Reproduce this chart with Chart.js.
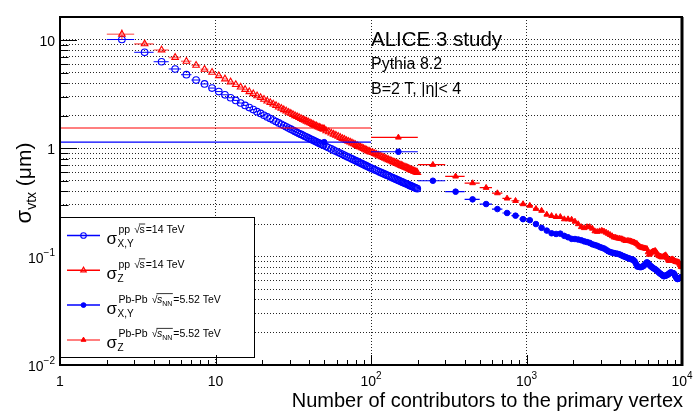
<!DOCTYPE html>
<html><head><meta charset="utf-8">
<script src="https://cdn.jsdelivr.net/npm/chart.js@4.4.1/dist/chart.umd.min.js"></script>
<style>html,body{margin:0;padding:0;background:#fff;}canvas{display:block;}</style>
</head><body>
<canvas id="c" width="693" height="415"></canvas>
<script>
// ---------------- data ----------------
const ppN = [2.5,3.5,4.5,5.5,6.5,7.5,8.5,9.5,10.5,11.5,12.5,13.5,14.5,15.5,16.5,17.5,18.5,19.5,20.5,21.5,22.5,23.5,24.5,25.5,26.5,27.5,28.5,29.5,30.5,31.5,32.5,33.5,34.5,35.5,36.5,37.5,38.5,39.5,40.5,41.5,42.5,43.5,44.5,45.5,46.5,47.5,48.5,49.5,
51.5,53.5,55.5,57.5,59.5,61.5,63.5,65.5,67.5,69.5,71.5,73.5,75.5,77.5,79.5,81.5,83.5,85.5,87.5,89.5,91.5,93.5,95.5,97.5,99.5,
102.5,105.5,108.5,111.5,114.5,117.5,120.5,123.5,126.5,129.5,132.5,135.5,138.5,141.5,144.5,147.5,150.5,153.5,156.5,159.5,162.5,165.5,168.5,171.5,174.5,177.5,180.5,183.5,186.5,189.5,192.5,195.5,198.5];
const ppSigmaXY = [10.1,7.7,6.3,5.4,4.78,4.27,3.93,3.6,
3.34,3.12,2.93,2.77,2.62,2.49,2.38,2.28,2.18,2.10,2.02,1.95,1.885,1.825,1.769,1.717,1.668,1.622,1.579,1.539,1.501,1.465,1.431,1.399,
1.369,1.343,1.317,1.293,1.269,1.247,1.226,1.206,1.186,1.167,1.149,1.131,1.115,1.098,1.083,1.068,
1.039,1.012,0.987,0.962,0.940,0.919,0.899,0.880,0.862,0.845,0.828,0.813,0.798,0.783,0.770,0.757,0.744,0.732,0.721,0.709,0.699,0.688,0.678,0.669,0.659,
0.647,0.635,0.624,0.613,0.603,0.593,0.583,0.574,0.565,0.557,0.549,0.541,0.533,0.526,0.519,0.512,0.506,0.499,0.493,0.487,0.481,0.476,0.471,0.465,0.460,0.455,0.450,0.446,0.441,0.436,0.432,0.428,0.424];
const ppSigmaZ = [11.3,9.2,8.08,6.9,6.36,5.84,5.36,5.03,
4.68,4.37,4.10,3.88,3.67,3.49,3.33,3.19,3.05,2.94,2.83,2.73,2.64,2.56,2.48,2.40,2.34,2.27,2.21,2.15,2.10,2.05,2.00,1.96,
1.92,1.88,1.84,1.81,1.78,1.75,1.72,1.69,1.66,1.63,1.61,1.58,1.56,1.54,1.52,1.50,
1.45,1.42,1.38,1.35,1.32,1.29,1.26,1.23,1.21,1.18,1.16,1.14,1.12,1.10,1.08,1.06,1.04,1.025,1.01,0.993,0.979,0.963,0.949,0.937,0.923,
0.912,0.895,0.880,0.864,0.850,0.836,0.822,0.809,0.797,0.785,0.774,0.763,0.752,0.742,0.732,0.722,0.713,0.704,0.695,0.687,0.678,0.671,0.664,0.656,0.649,0.642,0.635,0.629,0.622,0.615,0.609,0.603,0.598];
const ppZErrY = [1.2,0.4];          // visible vertical errors on the first bins
const ppHalfBin = 0.5;

const pbN = [50,150,250,350,450,550,650,750,850,950,
1050,1150,1250,1350,1450,1550,1650,1750,1850,1950,
2050,2150,2250,2350,2450,2550,2650,2750,2850,2950,
3050,3150,3250,3350,3450,3550,3650,3750,3850,3950,
4050,4150,4250,4350,4450,4550,4650,4750,4850,4950,
5050,5150,5250,5350,5450,5550,5650,5750,5850,5950,
6050,6150,6250,6350,6450,6550,6650,6750,6850,6950,
7050,7150,7250,7350,7450,7550,7650,7750,7850,7950,
8050,8150,8250,8350,8450,8550,8650,8750,8850,8950,
9050,9150,9250,9350,9450,9550,9650,9750,9850,9950];
const pbSigmaXY = [1.14,0.93,0.502,0.398,0.338,0.306,0.275,0.253,0.239,0.222,
0.217,0.200,0.1845,0.174,0.1644,0.162,0.163,0.1556,0.151,0.146,
0.1455,0.144,0.1417,0.1385,0.1364,0.134,0.130,0.128,0.126,0.123,
0.121,0.119,0.116,0.1124,0.1103,0.109,0.108,0.107,0.1063,0.1052,
0.1035,0.1017,0.1004,0.0989,0.0977,0.0964,0.0954,0.0944,0.0936,0.091,
0.0863,0.0813,0.0809,0.0802,0.080,0.081,0.0818,0.084,0.0863,0.0887,
0.0873,0.0847,0.0824,0.0809,0.0795,0.0781,0.0773,0.0762,0.075,0.0736,
0.0722,0.0707,0.0697,0.0687,0.0676,0.0668,0.0659,0.0664,0.0669,0.0673,
0.0677,0.0687,0.0697,0.0706,0.0716,0.0712,0.0708,0.0704,0.0701,0.0685,
0.0662,0.0645,0.0629,0.0621,0.0625,0.0631,0.0636,0.0641,0.0644,0.0644];
const pbSigmaZ = [1.54,1.26,0.706,0.551,0.478,0.433,0.386,0.345,0.328,0.306,
0.296,0.277,0.266,0.245,0.238,0.233,0.233,0.222,0.222,0.220,
0.211,0.200,0.188,0.184,0.188,0.188,0.182,0.172,0.170,0.172,
0.174,0.171,0.167,0.163,0.159,0.155,0.151,0.150,0.148,0.147,
0.146,0.145,0.142,0.140,0.140,0.140,0.139,0.138,0.136,0.135,
0.133,0.131,0.127,0.124,0.122,0.121,0.120,0.1196,0.1186,0.118,
0.110,0.1045,0.107,0.1096,0.111,0.112,0.1127,0.113,0.1096,0.1057,
0.1028,0.1014,0.1006,0.0995,0.0987,0.0997,0.101,0.102,0.1033,0.1006,
0.0973,0.094,0.0917,0.0924,0.0932,0.094,0.0948,0.0938,0.0927,0.0915,
0.0903,0.0895,0.0893,0.0891,0.0889,0.0886,0.0863,0.0836,0.081,0.0802];
const pbHalfBin = 50;

const xMajorTicks = [1,10,100,1000,10000];
const xTickLabels = [['1',''],['10',''],['10','2'],['10','3'],['10','4']];
const yMajorTicks = [0.01,0.1,1,10];
const yTickLabels = [['10','\u22122'],['10','\u22121'],['1',''],['10','']];
const minorMultipliers = [2,3,4,5,6,7,8,9];
const xGridValues = [10,100,1000];
const xRange = [1,10000];
const yRange = [0.01,16.3];

const textLines = ['ALICE 3 study','Pythia 8.2','B=2 T, |\u03b7|< 4'];
const xTitle = 'Number of contributors to the primary vertex';
const yTitleParts = ['\u03c3','vtx',' (\u03bcm)'];
const legendSup = ['pp','pp','Pb-Pb','Pb-Pb'];
const legendSub = ['X,Y','Z','X,Y','Z'];
const legendSqrtSub = ['','','NN','NN'];
const legendEnergy = ['=14 TeV','=14 TeV','=5.52 TeV','=5.52 TeV'];

// ---------------- helpers ----------------
const FONT = '"Liberation Sans", Arial, Helvetica, sans-serif';
const fnt = (s, it) => (it ? 'italic ' : '') + s + 'px ' + FONT;
function withMinors(majors){
  const out = [];
  majors.forEach((m, i) => { out.push(m); if (i < majors.length - 1) minorMultipliers.forEach(k => out.push(+(m * k).toPrecision(3))); });
  return out;
}
const xAllTicks = withMinors(xMajorTicks);
const yAllTicks = withMinors(yMajorTicks).filter(v => v <= yRange[1]);
function richWidth(ctx, parts){ let w = 0; parts.forEach(p => { ctx.font = fnt(p.size, p.italic); w += ctx.measureText(p.t).width + (p.gap || 0); }); return w; }
function drawRich(ctx, x, y, parts){
  let cx = x;
  parts.forEach(p => { ctx.font = fnt(p.size, p.italic); ctx.fillText(p.t, cx, y + (p.dy || 0)); cx += ctx.measureText(p.t).width + (p.gap || 0); });
  return cx;
}
const pts = (xs, ys) => xs.map((x, i) => ({x: x, y: ys[i]}));

// ---------------- plugins ----------------
const errorBars = {
  id: 'errorBars',
  beforeDatasetDraw(chart, args){
    const ds = chart.data.datasets[args.index];
    if (ds.errX === undefined) return;
    const xs = chart.scales.x, ys = chart.scales.y, a = chart.chartArea, ctx = chart.ctx;
    ctx.save();
    ctx.beginPath(); ctx.rect(a.left, a.top, a.right - a.left, a.bottom - a.top); ctx.clip();
    ctx.strokeStyle = ds.errColor; ctx.lineWidth = ds.errWidth;
    ctx.beginPath();
    ds.data.forEach((p, i) => {
      const py = ys.getPixelForValue(p.y);
      const x1 = xs.getPixelForValue(Math.max(p.x - ds.errX, xs.min));
      const x2 = xs.getPixelForValue(p.x + ds.errX);
      ctx.moveTo(x1, py); ctx.lineTo(x2, py);
      if (ds.errY && ds.errY[i]) {
        const px = xs.getPixelForValue(p.x);
        ctx.moveTo(px, ys.getPixelForValue(p.y + ds.errY[i]));
        ctx.lineTo(px, ys.getPixelForValue(Math.max(p.y - ds.errY[i], ys.min)));
      }
    });
    ctx.stroke();
    ctx.restore();
  }
};

const decor = {
  id: 'decor',
  afterDraw(chart){
    const ctx = chart.ctx, a = chart.chartArea, xs = chart.scales.x, ys = chart.scales.y;
    ctx.save();
    ctx.strokeStyle = '#000'; ctx.fillStyle = '#000'; ctx.lineWidth = 1;
    // y ticks (inside)
    ctx.beginPath();
    yAllTicks.forEach(v => {
      const py = Math.round(ys.getPixelForValue(v)) + 0.5;
      const len = yMajorTicks.includes(v) ? 17 : 8.5;
      ctx.moveTo(a.left, py); ctx.lineTo(a.left + len, py);
    });
    ctx.stroke();

    // legend
    const L = {x: 59, y: 217, w: 195, h: 140};
    ctx.fillStyle = '#fff'; ctx.fillRect(L.x, L.y, L.w, L.h);
    ctx.strokeStyle = '#000'; ctx.lineWidth = 1; ctx.strokeRect(L.x + 0.5, L.y + 0.5, L.w, L.h);
    [0, 1, 2, 3].forEach(i => {
      const ds = chart.data.datasets[i];
      const ly = 235.5 + i * 34.8;
      ctx.strokeStyle = ds.legendLine; ctx.lineWidth = ds.legendLineWidth;
      ctx.beginPath(); ctx.moveTo(67, ly); ctx.lineTo(100, ly); ctx.stroke();
      ctx.fillStyle = ds.backgroundColor; ctx.strokeStyle = ds.borderColor; ctx.lineWidth = ds.borderWidth;
      Chart.helpers.drawPoint(ctx, {pointStyle: ds.pointStyle, radius: ds.legendRadius, rotation: 0, borderWidth: ds.borderWidth}, 83.5, ly);
      ctx.fillStyle = '#000';
      ctx.font = fnt(17); ctx.fillText('\u03c3', 106.5, ly + 8.5);
      const sx = 106.5 + ctx.measureText('\u03c3').width + 0.5;
      ctx.font = fnt(10); ctx.fillText(legendSub[i], sx, ly + 11.5);
      ctx.font = fnt(10.5); ctx.fillText(legendSup[i], sx + 1, ly - 2.5);
      let ex = sx + 1 + ctx.measureText(legendSup[i]).width + 4;
      ctx.font = fnt(10.5); ctx.fillText('\u221a', ex, ly - 2.5);
      const rx = ex + ctx.measureText('\u221a').width - 0.5;
      ctx.font = fnt(10.5, legendSqrtSub[i] !== ''); ctx.fillText('s', rx, ly - 2.5);
      let ax = rx + ctx.measureText('s').width;
      if (legendSqrtSub[i]) { ctx.font = fnt(7); ctx.fillText(legendSqrtSub[i], ax, ly + 0.5); ax += ctx.measureText(legendSqrtSub[i]).width; }
      ctx.strokeStyle = '#000'; ctx.lineWidth = 0.8;
      ctx.beginPath(); ctx.moveTo(rx - 0.5, ly - 11.5); ctx.lineTo(ax + 0.5, ly - 11.5); ctx.stroke();
      ctx.font = fnt(10.5); ctx.fillText(legendEnergy[i], ax + 1, ly - 2.5);
    });

    // x ticks (inside)
    ctx.strokeStyle = '#000'; ctx.lineWidth = 1;
    ctx.beginPath();
    xAllTicks.forEach(v => {
      const px = Math.round(xs.getPixelForValue(v)) + 0.5;
      const len = xMajorTicks.includes(v) ? 10 : 5;
      ctx.moveTo(px, a.bottom); ctx.lineTo(px, a.bottom - len);
    });
    ctx.stroke();
    // frame
    ctx.lineWidth = 2;
    ctx.strokeRect(a.left, a.top, a.right - a.left, a.bottom - a.top);
    ctx.lineWidth = 3;
    ctx.beginPath(); ctx.moveTo(a.right, a.top); ctx.lineTo(a.right, a.bottom + 1); ctx.stroke();

    // tick labels
    ctx.fillStyle = '#000'; ctx.textBaseline = 'alphabetic';
    xMajorTicks.forEach((v, i) => {
      const parts = [{t: xTickLabels[i][0], size: 14}];
      if (xTickLabels[i][1]) parts.push({t: xTickLabels[i][1], size: 10, dy: -7});
      const w = richWidth(ctx, parts);
      drawRich(ctx, xs.getPixelForValue(v) - w / 2, 386, parts);
    });
    yMajorTicks.forEach((v, i) => {
      const parts = [{t: yTickLabels[i][0], size: 14}];
      if (yTickLabels[i][1]) parts.push({t: yTickLabels[i][1], size: 10, dy: -7});
      const w = richWidth(ctx, parts);
      drawRich(ctx, 55 - w, ys.getPixelForValue(v) + 6, parts);
    });

    // axis titles
    ctx.font = fnt(20);
    const xw = ctx.measureText(xTitle).width;
    ctx.fillText(xTitle, 683 - xw, 407);
    const yParts = [{t: yTitleParts[0], size: 22}, {t: yTitleParts[1], size: 14, dy: 5}, {t: yTitleParts[2], size: 21}];
    const yw = richWidth(ctx, yParts);
    ctx.save(); ctx.translate(31, 183 + yw / 2); ctx.rotate(-Math.PI / 2);
    drawRich(ctx, 0, 0, yParts);
    ctx.restore();

    // annotations
    ctx.font = fnt(20.5); ctx.fillText(textLines[0], 371, 46);
    ctx.font = fnt(16); ctx.fillText(textLines[1], 371, 68.5);
    ctx.font = fnt(16); ctx.fillText(textLines[2], 371, 93.5);
    ctx.restore();
  }
};

// ---------------- chart ----------------
const dotted = [1, 2];
new Chart(document.getElementById('c'), {
  type: 'scatter',
  data: {
    datasets: [
      {label: 'pp XY', data: pts(ppN, ppSigmaXY), pointStyle: 'circle', pointRadius: 3.3, legendRadius: 2.8, borderWidth: 1.1,
       borderColor: '#0000ff', backgroundColor: 'rgba(255,255,255,0)', errX: ppHalfBin, errColor: '#0000ff', errWidth: 1,
       legendLine: '#0000ff', legendLineWidth: 1.5, order: 4},
      {label: 'pp Z', data: pts(ppN, ppSigmaZ), pointStyle: 'triangle', pointRadius: 3.8, legendRadius: 3.2, borderWidth: 1.1,
       borderColor: '#ff0000', backgroundColor: 'rgba(255,255,255,0)', errX: ppHalfBin, errY: ppZErrY, errColor: 'rgba(255,40,40,0.6)', errWidth: 1.6,
       legendLine: '#ff0000', legendLineWidth: 1.5, order: 3},
      {label: 'PbPb XY', data: pts(pbN, pbSigmaXY), pointStyle: 'circle', pointRadius: 2.8, legendRadius: 2.4, borderWidth: 1,
       borderColor: '#0000ff', backgroundColor: '#0000ff', errX: pbHalfBin, errColor: '#0000ff', errWidth: 1.2,
       legendLine: '#0000ff', legendLineWidth: 1.5, order: 2},
      {label: 'PbPb Z', data: pts(pbN, pbSigmaZ), pointStyle: 'triangle', pointRadius: 3.3, legendRadius: 2.8, borderWidth: 1,
       borderColor: '#ff0000', backgroundColor: '#ff0000', errX: pbHalfBin, errColor: '#ff0000', errWidth: 1.2,
       legendLine: 'rgba(255,0,0,0.5)', legendLineWidth: 2, order: 1}
    ]
  },
  options: {
    responsive: false, animation: false, devicePixelRatio: 1,
    layout: {padding: {left: 60, right: 11, top: 17, bottom: 50}},
    plugins: {legend: {display: false}, tooltip: {enabled: false}},
    scales: {
      x: {type: 'logarithmic', min: xRange[0], max: xRange[1], bounds: 'data',
          afterBuildTicks: s => { s.ticks = xAllTicks.map(v => ({value: v})); },
          ticks: {display: false}, grid: {drawTicks: false, tickLength: 0, lineWidth: 1, borderDash: dotted,
          color: c => (c.tick && xGridValues.includes(c.tick.value)) ? 'rgba(0,0,0,0.85)' : 'rgba(0,0,0,0)'},
          border: {display: false, dash: dotted}},
      y: {type: 'logarithmic', min: yRange[0], max: yRange[1], bounds: 'data',
          afterBuildTicks: s => { s.ticks = yAllTicks.map(v => ({value: v})); },
          ticks: {display: false}, grid: {drawTicks: false, tickLength: 0, lineWidth: 1, borderDash: dotted,
          color: c => (c.tick && c.tick.value > yRange[0]) ? 'rgba(0,0,0,0.85)' : 'rgba(0,0,0,0)'},
          border: {display: false, dash: dotted}}
    }
  },
  plugins: [errorBars, decor]
});
</script>
</body></html>
